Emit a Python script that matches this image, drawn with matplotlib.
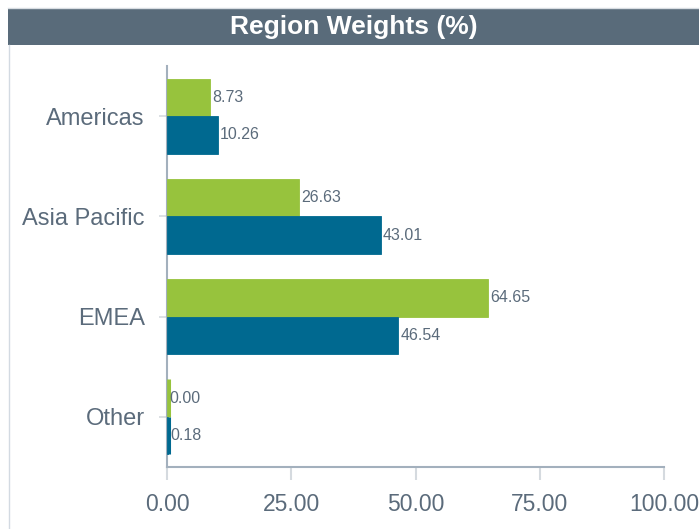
import matplotlib
matplotlib.use("Agg")
import matplotlib.pyplot as plt
from matplotlib.patches import Rectangle
from matplotlib.lines import Line2D
from matplotlib.transforms import offset_copy
import numpy as np

plt.rcParams['font.family'] = ['Liberation Sans', 'DejaVu Sans']

title = "Region Weights (%)"
categories = ["Americas", "Asia Pacific", "EMEA", "Other"]
series_a = [8.73, 26.63, 64.65, 0.00]   # green, upper bar
series_b = [10.26, 43.01, 46.54, 0.18]  # blue, lower bar
x_ticks = [0, 25, 50, 75, 100]

GREEN = "#97C33D"
BLUE = "#006990"
TEXT = "#5B6B7B"
BAND = "#596B7A"
AXIS = "#A3B0BD"
TICK = "#D5DADF"

W, H = 699, 529
fig = plt.figure(figsize=(W / 100, H / 100), dpi=100)
fig.patch.set_facecolor("white")

# frame: title band and left border
fig.add_artist(Rectangle((8 / W, 1 - 45 / H), 1 - 8 / W, 37 / H,
                         transform=fig.transFigure, facecolor=BAND,
                         edgecolor="none"))
fig.add_artist(Line2D([8 / W, 1], [1 - 7.5 / H, 1 - 7.5 / H],
                      transform=fig.transFigure, color="#D8DDE2", lw=1))
fig.add_artist(Line2D([8.5 / W, 8.5 / W], [0, 1 - 45 / H],
                      transform=fig.transFigure, color="#D3DAE2", lw=1))
fig.text((8 + W) / 2 / W, 1 - 27.5 / H, title, ha="center", va="center",
         color="white", fontsize=19, fontweight="bold")

ax = fig.add_axes([167 / W, 1 - 467 / H, (664 - 167) / W, (467 - 66) / H])
y = np.arange(len(categories))
bh = 0.375
ax.barh(y - bh / 2, series_a, height=bh, color=GREEN,
        edgecolor=GREEN, linewidth=0.6, zorder=3)
ax.barh(y + bh / 2, series_b, height=bh, color=BLUE,
        edgecolor=BLUE, linewidth=0.6, zorder=3)

# minimum visible length for very small bars (a short stub at the baseline)
stub = offset_copy(ax.transData, fig=fig, x=1.5, y=0, units="dots")
for vals, offs, col in ((series_a, -bh / 2, GREEN), (series_b, bh / 2, BLUE)):
    for yy, v in zip(y + offs, vals):
        if v < 0.5:
            ax.plot([0, 0], [yy - bh / 2, yy + bh / 2], color=col, lw=2.2,
                    solid_capstyle="butt", transform=stub, zorder=3)

for yy, v in zip(y - bh / 2, series_a):
    ax.annotate(f"{v:.2f}", (v, yy), xytext=(1.5, 0), textcoords="offset points",
                va="center", ha="left", fontsize=11.5, color=TEXT, zorder=4)
for yy, v in zip(y + bh / 2, series_b):
    ax.annotate(f"{v:.2f}", (v, yy), xytext=(1.5, 0), textcoords="offset points",
                va="center", ha="left", fontsize=11.5, color=TEXT, zorder=4)

ax.set_xlim(0, 100)
ax.set_ylim(3.5, -0.5)
ax.set_yticks(y)
ax.set_yticklabels(categories)
ax.set_xticks(x_ticks)
ax.set_xticklabels([f"{t:.2f}" for t in x_ticks])

for s in ["top", "right"]:
    ax.spines[s].set_visible(False)
for s in ["left", "bottom"]:
    ax.spines[s].set_color(AXIS)
    ax.spines[s].set_linewidth(1.5)

ax.tick_params(axis="y", length=6, width=1.2, color=TICK, pad=10,
               labelsize=17, labelcolor=TEXT)
ax.tick_params(axis="x", length=9, width=1.5, color=TICK, pad=10,
               labelsize=16.5, labelcolor=TEXT)

fig.savefig("out.png", dpi=100, facecolor="white")
